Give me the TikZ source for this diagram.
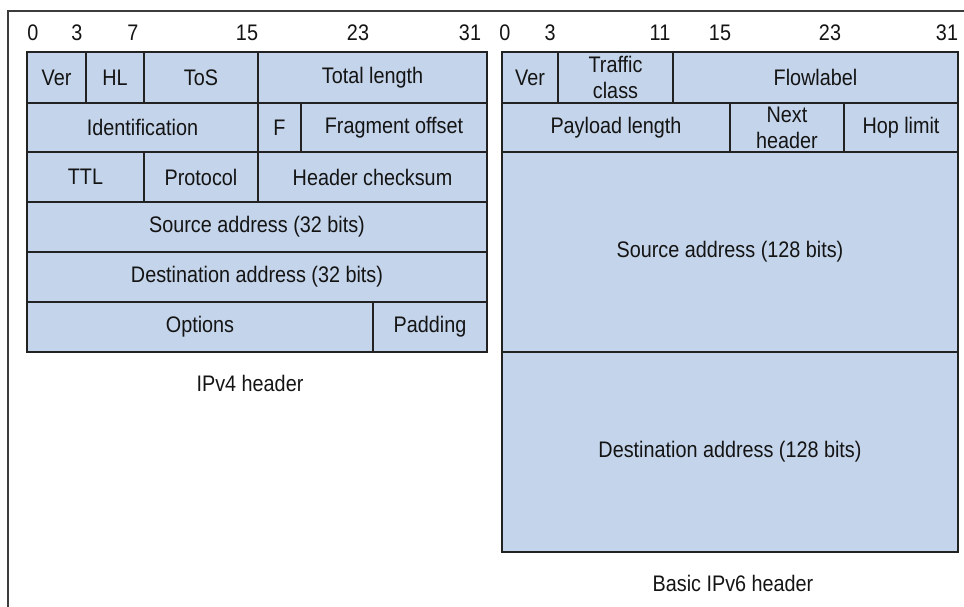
\documentclass[tikz,border=0pt]{standalone}
\usepackage{fontspec}
\setmainfont[FakeStretch=0.88]{Liberation Sans}
\definecolor{fieldblue}{RGB}{196,212,234}
\definecolor{rule}{RGB}{34,34,34}
\definecolor{frameline}{RGB}{60,60,60}
\newcommand{\fld}[6]{%
  \node[field, minimum width={(#4)-(#2)}, minimum height={(#5)-(#3)}]
    (#1) at ({((#2)+(#4))/2},{((#3)+(#5))/2}) {#6};}
\tikzset{
  labelfont/.style={font=\fontsize{22.5}{25}\selectfont, text=black!92},
  field/.style={draw=rule, fill=fieldblue, line width=1.8pt, inner sep=0pt,
    align=center, labelfont},
  bitno/.style={labelfont, inner sep=0pt},
  caption/.style={labelfont, inner sep=0pt},
}
\begin{document}
\begin{tikzpicture}[x=1pt,y=-1pt]
\useasboundingbox (0,0) rectangle (964,607);
% outer frame: top and left rules
\draw[frameline, line width=1.4pt] (964,11) -- (8,11) -- (8,607);

% ---------- IPv4 header ----------
\foreach \n/\x in {0/33,3/77,7/133,15/247,23/358,31/470}
  \node[bitno] (v4b\n) at (\x,33) {\n};
\fld{ver4}{27}{52}{86}{103}{Ver}
\fld{hl}{86}{52}{144}{103}{HL}
\fld{tos}{144}{52}{258}{103}{ToS}
\fld{totlen}{258}{52}{487}{103}{Total length}
\fld{ident}{27}{103}{258}{152}{Identification}
\fld{flags}{258}{103}{301}{152}{F}
\fld{fragoff}{301}{103}{487}{152}{Fragment offset}
\fld{ttl}{27}{152}{144}{202}{TTL}
\fld{proto}{144}{152}{258}{202}{Protocol}
\fld{hcsum}{258}{152}{487}{202}{Header checksum}
\fld{src4}{27}{202}{487}{252}{Source address (32 bits)}
\fld{dst4}{27}{252}{487}{302}{Destination address (32 bits)}
\fld{opts}{27}{302}{373}{352}{Options}
\fld{pad}{373}{302}{487}{352}{Padding}
\node[caption] (cap4) at (250,383) {IPv4 header};

% ---------- IPv6 header ----------
\foreach \n/\x in {0/505,3/550,11/660,15/720,23/830,31/947}
  \node[bitno] (v6b\n) at (\x,33) {\n};
\fld{ver6}{502}{52}{558}{103}{Ver}
\fld{tclass}{558}{52}{673}{103}{Traffic\\[1pt]class}
\fld{flow}{673}{52}{958}{103}{Flowlabel}
\fld{paylen}{502}{103}{730}{152}{Payload length}
\fld{nexthdr}{730}{103}{844}{152}{Next\\[1pt]header}
\fld{hoplim}{844}{103}{958}{152}{Hop limit}
\fld{src6}{502}{152}{958}{352}{Source address (128 bits)}
\fld{dst6}{502}{352}{958}{552}{Destination address (128 bits)}
\node[caption] (cap6) at (733,583) {Basic IPv6 header};
\end{tikzpicture}
\end{document}
